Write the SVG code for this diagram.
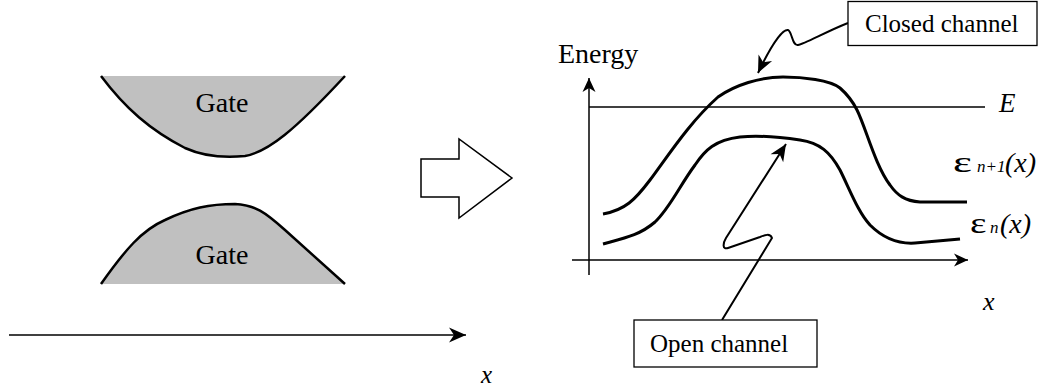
<svg xmlns="http://www.w3.org/2000/svg" width="1042" height="390" viewBox="0 0 1042 390">
<style>
text{font-family:"Liberation Serif","Times New Roman","DejaVu Serif",serif;fill:#000}
.gate{fill:#c0c0c0;stroke:none}
.edge{fill:none;stroke:#000;stroke-width:2.5}
.curve{fill:none;stroke:#000;stroke-width:3}
.axis{fill:none;stroke:#000;stroke-width:1.5}
.conn{fill:none;stroke:#000;stroke-width:2}
.box{fill:#fff;stroke:#000;stroke-width:1.3}
</style>
<defs>
<marker id="ah" viewBox="-18 -8 19 16" refX="0" refY="0" markerWidth="19" markerHeight="16" markerUnits="userSpaceOnUse" orient="auto">
<path d="M0,0 L-17,-7.5 L-12,0 L-17,7.5 Z" fill="#000"/>
</marker>
<marker id="ahs" viewBox="-15 -7 16 14" refX="0" refY="0" markerWidth="16" markerHeight="14" markerUnits="userSpaceOnUse" orient="auto">
<path d="M0,0 L-14,-6.5 L-10,0 L-14,6.5 Z" fill="#000"/>
</marker>
</defs>

<g id="gate-top">
<path class="gate" d="M101,76 C125,108 150,130 185,148 C205,157 225,158 245,156 C268,152 295,130 345,76 Z"/>
<path class="edge" d="M101,76 C125,108 150,130 185,148 C205,157 225,158 245,156 C268,152 295,130 345,76"/>
<text x="222" y="112" font-family="Liberation Serif, Times New Roman, serif" font-size="28" text-anchor="middle">Gate</text>
</g>

<g id="gate-bottom">
<path class="gate" d="M101,284 C125,250 142,230 165,220 C190,208 210,204 235,204 C255,205 265,212 285,230 C305,248 325,266 345,284 Z"/>
<path class="edge" d="M101,284 C125,250 142,230 165,220 C190,208 210,204 235,204 C255,205 265,212 285,230 C305,248 325,266 345,284"/>
<text x="222" y="264" font-family="Liberation Serif, Times New Roman, serif" font-size="28" text-anchor="middle">Gate</text>
</g>

<g id="x-axis-left">
<line class="axis" x1="9" y1="335" x2="466" y2="335" marker-end="url(#ah)"/>
<text x="481" y="383" font-family="Liberation Serif, Times New Roman, serif" font-size="25" font-style="italic">x</text>
</g>

<g id="block-arrow">
<polygon points="421,159 459,159 459,139 512,178 459,218 459,197 421,197" fill="#fff" stroke="#000" stroke-width="1.5"/>
</g>

<g id="axes">
<line class="axis" x1="589" y1="275" x2="589" y2="78" marker-end="url(#ahs)"/>
<line class="axis" x1="572" y1="260" x2="968" y2="260" marker-end="url(#ahs)"/>
<text x="558" y="63" font-family="Liberation Serif, Times New Roman, serif" font-size="28">Energy</text>
<text x="983" y="310" font-family="Liberation Serif, Times New Roman, serif" font-size="26" font-style="italic">x</text>
</g>

<g id="energy-line">
<line class="axis" x1="589" y1="107" x2="985" y2="107"/>
<text x="999" y="112" font-family="Liberation Serif, Times New Roman, serif" font-size="27" font-style="italic">E</text>
</g>

<g id="band-n1">
<path class="curve" d="M603,214 C625,210 635,200 650,180 C670,153 690,122 718,97 C735,85 760,77 783,77 C803,77 830,80 840,88 C848,95 852,100 857,110 C866,128 875,165 890,185 C897,195 905,201 920,202 L967,202"/>
<text transform="translate(953,172) scale(1.55,1)" font-family="Liberation Serif, Times New Roman, serif" font-size="29">ε</text>
<text x="977" y="172" font-family="Liberation Serif, Times New Roman, serif" font-size="17" font-style="italic">n+1<tspan x="1005" font-size="28">(x)</tspan></text>
</g>

<g id="band-n">
<path class="curve" d="M603,244 C625,238 640,235 655,222 C670,208 680,185 695,165 C705,150 715,140 740,137 C760,135 780,137 800,140 C820,143 830,152 840,170 C850,190 858,212 870,225 C885,240 900,244 915,243 L960,239"/>
<text transform="translate(970,233) scale(1.35,1)" font-family="Liberation Serif, Times New Roman, serif" font-size="29">ε</text>
<text x="990" y="233" font-family="Liberation Serif, Times New Roman, serif" font-size="17" font-style="italic">n<tspan x="1000" font-size="28">(x)</tspan></text>
</g>

<g id="connectors">
<path class="conn" d="M848,23 C825,32 805,44 798,45 C792,46 792,31 788,30 C781,29 768,52 758,73" marker-end="url(#ah)"/>
<path class="conn" d="M722,320 L772,238 C770,233 765,235 760,237 L728,248 C722,250 723,243 726,238 L786,144" marker-end="url(#ah)"/>
</g>

<g id="closed-channel">
<rect class="box" x="848" y="1.5" width="189" height="44"/>
<text x="865" y="32" font-family="Liberation Serif, Times New Roman, serif" font-size="25">Closed channel</text>
</g>

<g id="open-channel">
<rect class="box" x="634" y="320" width="183" height="47"/>
<text x="650" y="352" font-family="Liberation Serif, Times New Roman, serif" font-size="25">Open channel</text>
</g>
</svg>
